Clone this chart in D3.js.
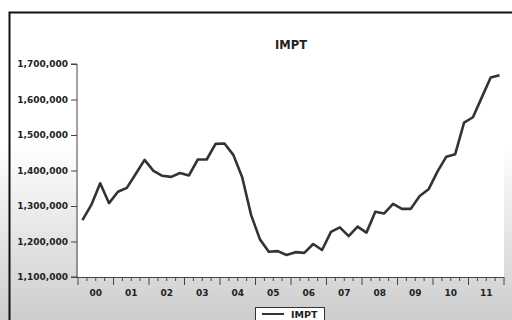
<!DOCTYPE html>
<html lang="en">
  <head>
    <meta charset="UTF-8" />
    <title>IMPT</title>
    <style>
      body { margin: 0; background: #fff; }
      text { font-family: "DejaVu Sans", sans-serif; font-weight: bold; fill: #222; }
    </style>
  </head>
  <body>
    <svg id="container" width="512" height="320">
      <defs>
        <linearGradient id="bg" x1="0" y1="0" x2="0" y2="1">
          <stop offset="0.45" stop-color="#ffffff" />
          <stop offset="1" stop-color="#cdcdcd" />
        </linearGradient>
      </defs>
      <rect width="512" height="320" fill="url(#bg)"></rect>
      <g id="plot"></g>
      <g id="yAxis"></g>
      <g id="xAxis"></g>
      <g id="legend"></g>
    </svg>
  </body>
  <script src="https://cdn.jsdelivr.net/npm/d3@7"></script>
  <script>
    // quarterly series, 2000Q1 .. 2011Q4
    let years = ["00", "01", "02", "03", "04", "05", "06", "07", "08", "09", "10", "11"];
    let impt = [
      1260000, 1303000, 1364000, 1308000,
      1340000, 1351000, 1390000, 1430000,
      1399000, 1385000, 1382000, 1393000,
      1386000, 1431000, 1431000, 1475000,
      1476000, 1444000, 1381000, 1275000,
      1206000, 1171000, 1173000, 1162000,
      1170000, 1168000, 1193000, 1176000,
      1227000, 1240000, 1215000, 1242000,
      1225000, 1284000, 1279000, 1306000,
      1292000, 1292000, 1328000, 1347000,
      1397000, 1439000, 1446000, 1535000,
      1550000, 1606000, 1662000, 1668000
    ];
    let yTicks = [1100000, 1200000, 1300000, 1400000, 1500000, 1600000, 1700000];

    let svg = d3.select("#container");
    let pLeft = 78, pRight = 504, pTop = 64, pBottom = 277;

    // scales: x in years (2000 .. 2012), y in values
    let x = d3.scaleLinear().domain([2000, 2000 + years.length]).range([pLeft, pRight]);
    let y = d3.scaleLinear().domain([1100000, 1700000]).range([pBottom, pTop]);

    // outer frame (left + top only visible)
    svg.append("path")
      .attr("d", "M9.5,320 V12.5 H512")
      .attr("fill", "none")
      .attr("stroke", "#111")
      .attr("stroke-width", 2);

    // white plot area
    d3.select("#plot").append("rect")
      .attr("x", pLeft).attr("y", 16)
      .attr("width", pRight - pLeft).attr("height", pBottom - 16)
      .attr("fill", "#fff");

    // title
    svg.append("text")
      .attr("x", (pLeft + pRight) / 2).attr("y", 49)
      .attr("text-anchor", "middle")
      .style("font-size", "11.5px")
      .text("IMPT");

    // the line
    let line = d3.line()
      .x((d, i) => x(2000 + (i + 0.5) / 4))
      .y((d) => y(d));
    d3.select("#plot").append("path")
      .datum(impt)
      .attr("d", line)
      .attr("fill", "none")
      .attr("stroke", "#333")
      .attr("stroke-width", 2.6)
      .attr("stroke-linejoin", "round");

    // y axis
    let yAxis = d3.axisLeft(y).tickValues(yTicks).tickFormat(d3.format(",")).tickSize(6).tickPadding(3);
    d3.select("#yAxis").attr("transform", `translate(${pLeft - 1},0)`).call(yAxis);
    d3.select("#yAxis").select(".domain").attr("stroke", "#444").attr("d", `M-6,${pBottom}H0V${pTop}H-6`);
    d3.selectAll("#yAxis .tick line").attr("stroke", "#444");
    d3.select("#yAxis").attr("font-family", null).attr("font-size", null);
    d3.selectAll("#yAxis text").style("font-size", "9px").attr("fill", "#222");

    // x axis: quarterly minor ticks, long ticks at year boundaries, labels at mid-year
    let quarters = d3.range(0, years.length * 4 + 1).map((q) => 2000 + q / 4);
    let xg = d3.select("#xAxis");
    xg.append("line")
      .attr("x1", pLeft - 1).attr("x2", pRight)
      .attr("y1", pBottom + 0.5).attr("y2", pBottom + 0.5)
      .attr("stroke", "#444");
    xg.selectAll(".q").data(quarters).enter().append("line")
      .attr("x1", (d) => x(d)).attr("x2", (d) => x(d))
      .attr("y1", pBottom).attr("y2", (d, i) => pBottom + (i % 4 === 0 ? 8 : 4))
      .attr("stroke", "#444");
    xg.selectAll("text").data(years).enter().append("text")
      .attr("x", (d, i) => x(2000 + i + 0.5))
      .attr("y", 296)
      .attr("text-anchor", "middle")
      .style("font-size", "9px")
      .text((d) => d);

    // legend
    let lg = d3.select("#legend");
    lg.append("rect")
      .attr("x", 255.5).attr("y", 307.5).attr("width", 69).attr("height", 20)
      .attr("fill", "#fff").attr("stroke", "#333");
    lg.append("line")
      .attr("x1", 262).attr("x2", 284).attr("y1", 314).attr("y2", 314)
      .attr("stroke", "#333").attr("stroke-width", 2);
    lg.append("text")
      .attr("x", 291).attr("y", 318)
      .style("font-size", "9.5px")
      .text("IMPT");
  </script>
</html>
